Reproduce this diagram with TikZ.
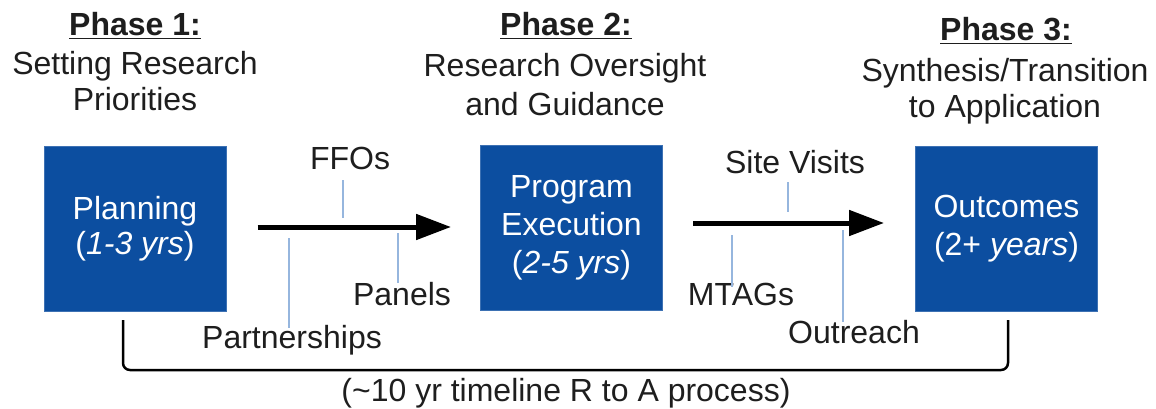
\documentclass[tikz,border=0pt]{standalone}
\usepackage{fontspec}
\setmainfont{Liberation Sans}
\usetikzlibrary{arrows.meta}
\definecolor{boxblue}{RGB}{12,78,160}
\definecolor{tickblue}{RGB}{150,182,222}
\definecolor{txt}{RGB}{30,30,30}
\begin{document}
\begin{tikzpicture}[x=1pt,y=-1pt,
  lbl/.style={anchor=base, inner sep=0pt, font=\fontsize{32}{38}\selectfont, text=txt},
  phasebox/.style={draw=boxblue!80!white, line width=1pt, fill=boxblue, minimum width=182pt, minimum height=165pt, inner sep=0pt, align=center, text=white, font=\fontsize{32}{38}\selectfont},
  tick/.style={draw=tickblue, line width=1.5pt},
  bigarrow/.style={draw=black, line width=5pt, -{Triangle[length=35pt,width=25pt]}},
  bracket/.style={draw=black, line width=2.5pt, rounded corners=7pt}]
\useasboundingbox (0,0) rectangle (1156,409);

% headings
\node[lbl] (ph1)  at (135,36)  {\underline{\textbf{Phase 1:}}};
\node[lbl] (ph1a) at (135,75)  {Setting Research};
\node[lbl] (ph1b) at (135,111) {Priorities};
\node[lbl] (ph2)  at (566,36)  {\underline{\textbf{Phase 2:}}};
\node[lbl] (ph2a) at (565,77)  {Research Oversight};
\node[lbl] (ph2b) at (565,116) {and Guidance};
\node[lbl] (ph3)  at (1006,41) {\underline{\textbf{Phase 3:}}};
\node[lbl] (ph3a) at (1005,82) {Synthesis/Transition};
\node[lbl] (ph3b) at (1005,118) {to Application};

% boxes
\node[phasebox] (b1) at (135,228.5) {Planning\\[-3pt](\textit{1-3 yrs})};
\node[phasebox] (b2) at (571.5,227.5) {Program\\Execution\\(\textit{2-5 yrs})};
\node[phasebox] (b3) at (1006.5,228.5) {Outcomes\\(2+ \textit{years})};

% arrows
\draw[bigarrow] ([xshift=31pt,yshift=1.5pt]b1.east) -- ([xshift=-29pt,yshift=0.5pt]b2.west);
\draw[bigarrow] ([xshift=30pt,yshift=4.5pt]b2.east) -- ([xshift=-31pt,yshift=5.5pt]b3.west);

% labels
\node[lbl] (ffo)  at (350,169) {FFOs};
\node[lbl] (part) at (292,348) {Partnerships};
\node[lbl] (pan)  at (402,305) {Panels};
\node[lbl] (site) at (795,173) {Site Visits};
\node[lbl] (mtag) at (741,305) {MTAGs};
\node[lbl] (outr) at (854,343) {Outreach};

% ticks
\coordinate (f1) at (343,180); \coordinate (f2) at (343,218);
\coordinate (p1) at (289,238); \coordinate (p2) at (289,328);
\coordinate (n1) at (398,233); \coordinate (n2) at (398,283);
\coordinate (s1) at (788,182); \coordinate (s2) at (788,212);
\coordinate (m1) at (732,235); \coordinate (m2) at (732,287);
\coordinate (o1) at (843,230); \coordinate (o2) at (843,322);
\draw[tick] (f1) -- (f2);
\draw[tick] (p1) -- (p2);
\draw[tick] (n1) -- (n2);
\draw[tick] (s1) -- (s2);
\draw[tick] (m1) -- (m2);
\draw[tick] (o1) -- (o2);

% bracket
\coordinate (bl) at (123,320);
\coordinate (br) at (1008,320);
\draw[bracket] (bl) -- (123,370) -- (1008,370) -- (br);
\node[lbl] (tl) at (566,401) {(\textasciitilde10 yr timeline R to A process)};
\end{tikzpicture}
\end{document}
